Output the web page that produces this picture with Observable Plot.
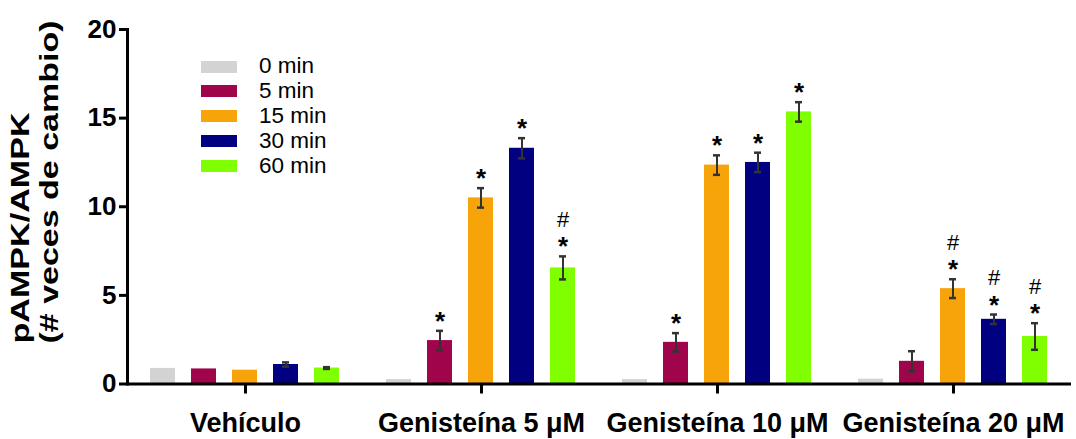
<!DOCTYPE html>
<html><head><meta charset="utf-8">
<script src="https://cdn.jsdelivr.net/npm/d3@7"></script>
<script src="https://cdn.jsdelivr.net/npm/@observablehq/plot@0.6"></script>
<style>
body{margin:0;background:#fff;}
#wrap{position:relative;width:1076px;height:439px;font-family:"Liberation Sans",Arial,sans-serif;}
#legend{position:absolute;left:201px;top:54.3px;}
.row{display:flex;align-items:center;height:24.8px;}
.sw{width:36px;height:12px;margin-right:22px;}
.lab{font-size:22.5px;color:#000;line-height:1;}
</style></head><body><div id="wrap"><div id="legend"></div></div>
<script>
const groups = ["Vehículo", "Genisteína 5 μM", "Genisteína 10 μM", "Genisteína 20 μM"];
const times = ["0 min", "5 min", "15 min", "30 min", "60 min"];
const colors = ["#d3d3d3", "#a0044b", "#f7a40b", "#000080", "#7fff00"];
const yTicks = [0, 5, 10, 15, 20];
const yLabel1 = "pAMPK/AMPK";
const yLabel2 = "(# veces de cambio)";

// mean values per group (series order = times)
const meanVeh = [0.88, 0.85, 0.78, 1.10, 0.90];
const meanG5  = [0.25, 2.45, 10.5, 13.3, 6.55];
const meanG10 = [0.25, 2.35, 12.35, 12.5, 15.35];
const meanG20 = [0.27, 1.28, 5.38, 3.65, 2.68];
// error (SEM)
const semVeh = [0, 0, 0, 0.12, 0.05];
const semG5  = [0, 0.55, 0.55, 0.57, 0.65];
const semG10 = [0, 0.52, 0.55, 0.55, 0.55];
const semG20 = [0, 0.57, 0.53, 0.27, 0.75];
// significance marks
const starVeh = ["", "", "", "", ""];
const starG5  = ["", "*", "*", "*", "*"];
const starG10 = ["", "*", "*", "*", "*"];
const starG20 = ["", "", "*", "*", "*"];
const hashVeh = ["", "", "", "", ""];
const hashG5  = ["", "", "", "", "#"];
const hashG10 = ["", "", "", "", ""];
const hashG20 = ["", "", "#", "#", "#"];

const means = [meanVeh, meanG5, meanG10, meanG20];
const sems = [semVeh, semG5, semG10, semG20];
const stars = [starVeh, starG5, starG10, starG20];
const hashes = [hashVeh, hashG5, hashG10, hashG20];

const rows = groups.flatMap((g, gi) => times.map((t, ti) => ({
  group: g, time: t, value: means[gi][ti], err: sems[gi][ti],
  star: stars[gi][ti], hash: hashes[gi][ti]
})));
const errRows = rows.filter(d => d.err > 0);
const hi = d => d.value + d.err;
const lo = d => d.value - d.err;
const font = '"Liberation Sans", Arial, sans-serif';

const chart = Plot.plot({
  width: 1076, height: 439,
  marginLeft: 127, marginRight: 5, marginTop: 29, marginBottom: 55.5,
  style: {fontFamily: font, color: "#000", background: "transparent", overflow: "visible"},
  fx: {domain: groups, padding: 0, axis: null},
  x: {domain: times, paddingInner: 0.386, paddingOuter: 0.523, axis: null},
  y: {domain: [0, 20], axis: null},
  color: {domain: times, range: colors},
  marks: [
    Plot.barY(rows, {fx: "group", x: "time", y: "value", fill: "time"}),
    Plot.ruleX(errRows, {fx: "group", x: "time", y1: lo, y2: hi, stroke: "#333", strokeWidth: 2}),
    Plot.tickY(errRows, {fx: "group", x: "time", y: hi, stroke: "#333", strokeWidth: 2.5, inset: 9}),
    Plot.tickY(errRows, {fx: "group", x: "time", y: lo, stroke: "#333", strokeWidth: 2.5, inset: 9}),
    Plot.text(rows.filter(d => d.star), {fx: "group", x: "time", y: hi, text: "star", fontSize: 26, fontWeight: "bold", lineAnchor: "bottom", dy: -1, fill: "#000"}),
    Plot.text(rows.filter(d => d.hash), {fx: "group", x: "time", y: hi, text: "hash", fontSize: 22, lineAnchor: "bottom", dy: -29.5, fill: "#000"}),
    Plot.ruleY([0], {strokeWidth: 3, stroke: "#000"}),
    Plot.frame({anchor: "left", facetAnchor: "left", strokeWidth: 3, stroke: "#000"}),
    Plot.axisY({ticks: yTicks, tickSize: 8, tickPadding: 3, strokeWidth: 3, fontSize: 26, fontWeight: "bold", label: null}),
    Plot.axisFx({anchor: "bottom", tickSize: 10, tickPadding: 19, strokeWidth: 3, fontSize: 27, fontWeight: "bold", label: null}),
    Plot.text([{g: groups[0], t: yLabel1}], {fx: "g", text: "t", frameAnchor: "bottom-left", rotate: -90, textAnchor: "start", dx: -99, dy: -40.5, fontSize: 25, fontWeight: "bold", fill: "#000"}),
    Plot.text([{g: groups[0], t: yLabel2}], {fx: "g", text: "t", frameAnchor: "bottom-left", rotate: -90, textAnchor: "start", dx: -69.5, dy: -40.5, fontSize: 25, fontWeight: "bold", fill: "#000"})
  ]
});
document.getElementById("wrap").appendChild(chart);

// stretch the y-axis title lines as in the reference
chart.querySelectorAll("text").forEach(t => {
  if (t.textContent === yLabel1) { t.setAttribute("textLength", 231); t.setAttribute("lengthAdjust", "spacingAndGlyphs"); }
  if (t.textContent === yLabel2) { t.setAttribute("textLength", 323); t.setAttribute("lengthAdjust", "spacingAndGlyphs"); }
});

// legend
const leg = d3.select("#legend");
times.forEach((t, i) => {
  const r = leg.append("div").attr("class", "row");
  r.append("div").attr("class", "sw").style("background", colors[i]);
  r.append("div").attr("class", "lab").text(t);
});
chart.style.position = "absolute";
chart.style.left = "0";
chart.style.top = "0";
document.getElementById("legend").style.zIndex = 2;
</script></body></html>
